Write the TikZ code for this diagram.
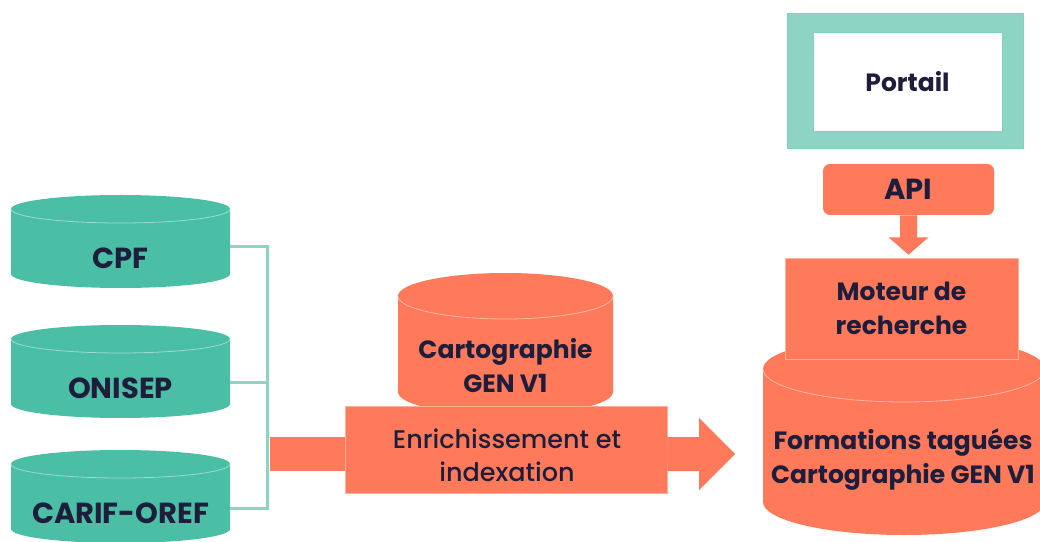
\documentclass[tikz,border=0pt]{standalone}
\usepackage{fontspec}
\setmainfont{Poppins}
\newfontfamily\medfont{Poppins Medium}
\definecolor{dbteal}{HTML}{4BBEA6}
\definecolor{paleteal}{HTML}{8DD4C4}
\definecolor{coral}{HTML}{FF7A5A}
\definecolor{ink}{HTML}{1E1E3C}

% cylindre : x gauche, x droite, y haut, y bas, rayon vertical, couleur
\newcommand{\dbcyl}[6]{%
  \pgfmathsetmacro\cylrx{(#2-#1)/2}%
  \fill[#6] (#1,#3-#5) -- (#1,#4+#5) arc[start angle=180, end angle=360, x radius=\cylrx, y radius=#5]
    -- (#2,#3-#5) arc[start angle=0, end angle=180, x radius=\cylrx, y radius=#5] -- cycle;
  \draw[#6!55!white, line width=0.8pt] (#1,#3-#5) arc[start angle=180, end angle=360, x radius=\cylrx, y radius=#5];
}

\usetikzlibrary{positioning}

\begin{document}
\begin{tikzpicture}[x=1pt, y=1pt,
    lbl/.style={font=\fontsize{25}{34}\selectfont\bfseries, text=ink, align=center, inner sep=0pt},
    biglbl/.style={lbl, font=\fontsize{29}{34}\selectfont\bfseries},
    box/.style={fill=coral, draw=coral!60!white, line width=0.6pt, inner sep=0pt},
    link/.style={paleteal, line width=3pt}]
    \useasboundingbox (0,0) rectangle (1040,541);

    % Sources : y haut/y lien/nom/texte
    \foreach \ytop/\ly/\name/\lbl in {346/294/cpf/CPF, 216/159/onisep/ONISEP, 91/33/carif/CARIF-OREF} {
        \dbcyl{11}{230}{\ytop}{\ytop-93}{14}{dbteal}
        \node[biglbl] (\name) at (120.5, \ytop-63) {\lbl};
        \coordinate (\name-e) at (230, \ly);
    }
    \coordinate (bus-n) at (267,294);
    \coordinate (bus-s) at (267,33);
    \draw[link] (cpf-e) -- (bus-n) -- (bus-s) -- (carif-e);
    \draw[link] (onisep-e) -- (onisep-e -| bus-n);

    % Cartographie + enrichissement
    \dbcyl{398}{613}{268}{126}{23}{coral}
    \node[lbl] (carto) at (505.5,175) {Cartographie\\GEN V1};
    \fill[coral] (270,70) rectangle (346,104);
    \node[box, minimum width=322, minimum height=87] (enrich) at (506,91.5) {};
    \node[lbl, font=\fontsize{25.5}{33}\medfont] (enrich-txt) at (507,85.5) {Enrichissement et\\indexation};
    \coordinate (out-tip) at (735,87);
    \fill[coral] (enrich.east |- 0,104) -- (699,104) -- (699,123) -- (out-tip)
        -- (699,51) -- (699,70) -- (enrich.east |- 0,70) -- cycle;

    % Base taguee + moteur
    \dbcyl{763}{1045}{205}{6}{33}{coral}
    \node[lbl] (formations) at (903,81) {Formations taguées\\Cartographie GEN V1};
    \node[box, minimum width=233, minimum height=101] (moteur) at (901.5,232.5) {};
    \node[lbl] (moteur-txt) at (moteur.center) {Moteur de\\recherche};

    % API
    \node[box, draw=none, rounded corners=7pt, minimum width=171, minimum height=51] (api) at (908.5,351.5) {};
    \node[biglbl] (api-txt) at (api.center) {API};
    \path (api.south) ++(0,-22) coordinate (dn-neck);
    \fill[coral] ([xshift=-8.5pt]api.south) -- ([xshift=-8.5pt]dn-neck) -- ([xshift=-20pt]dn-neck)
        -- ([yshift=3pt]api.south |- moteur.north) -- ([xshift=20pt]dn-neck) -- ([xshift=8.5pt]dn-neck)
        -- ([xshift=8.5pt]api.south) -- cycle;

    % Portail
    \node[fill=paleteal, draw=dbteal!70, line width=0.5pt, minimum width=236, minimum height=135] (portail) at (905,460.5) {};
    \node[lbl, fill=white, draw=dbteal!70, line width=0.5pt, minimum width=189, minimum height=99] (portail-in) at (907.5,459.5) {Portail};
\end{tikzpicture}
\end{document}
